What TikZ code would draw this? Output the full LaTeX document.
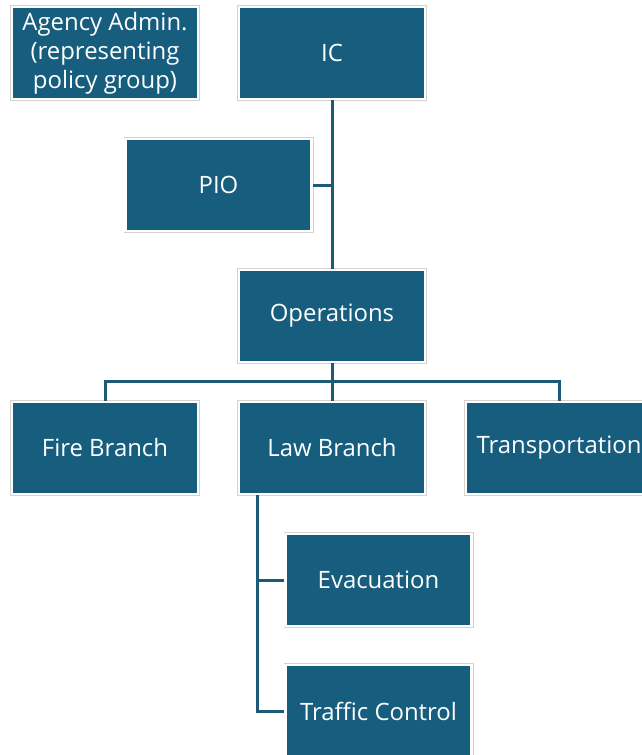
\documentclass[tikz,border=0pt]{standalone}
\usepackage{fontspec}
\setmainfont{Open Sans}
\definecolor{boxteal}{HTML}{175E7E}
\definecolor{lineteal}{HTML}{1D5A75}
\definecolor{rim}{HTML}{D2D2D2}
\begin{document}
\begin{tikzpicture}[x=1bp,y=-1bp,
  orgbox/.style={rectangle, fill=boxteal, draw=white, line width=2.5bp,
    preaction={draw=rim, line width=4bp},
    minimum width=186bp, minimum height=92bp, inner sep=0pt,
    text=white, font=\fontsize{24}{29}\selectfont, align=center},
  link/.style={draw=lineteal, line width=3bp}]
\useasboundingbox (0,0) rectangle (642,755);
\clip (0,0) rectangle (642,755);
\node[orgbox] (agency) at (105,53) {Agency Admin.\\(representing\\policy group)};
\node[orgbox] (ic) at (332,53) {IC};
\node[orgbox] (pio) at (218.5,185) {PIO};
\node[orgbox] (ops) at (332,316) {Operations};
\node[orgbox] (fire) at (105,448) {Fire Branch};
\node[orgbox] (law) at (332,448) {Law Branch};
\node[orgbox] (trans) at (559,448) {Transportation};
\node[orgbox] (evac) at (378.5,580) {Evacuation};
\node[orgbox] (traffic) at (378.5,711) {Traffic Control};
\coordinate (busL) at (105,381);
\coordinate (busR) at (559,381);
\coordinate (lawdrop) at (257,495);
\draw[link] (ic.south) -- (ops.north);
\draw[link] (pio.east) -- (pio.east -| ic.south);
\draw[link] (ops.south) -- (ops.south |- busL);
\draw[link] (fire.north) -- (busL) -- (busR) -- (trans.north);
\draw[link] (law.north) -- (law.north |- busL);
\draw[link] (lawdrop) |- (traffic.west);
\draw[link] (lawdrop |- evac.west) -- (evac.west);
\end{tikzpicture}
\end{document}
